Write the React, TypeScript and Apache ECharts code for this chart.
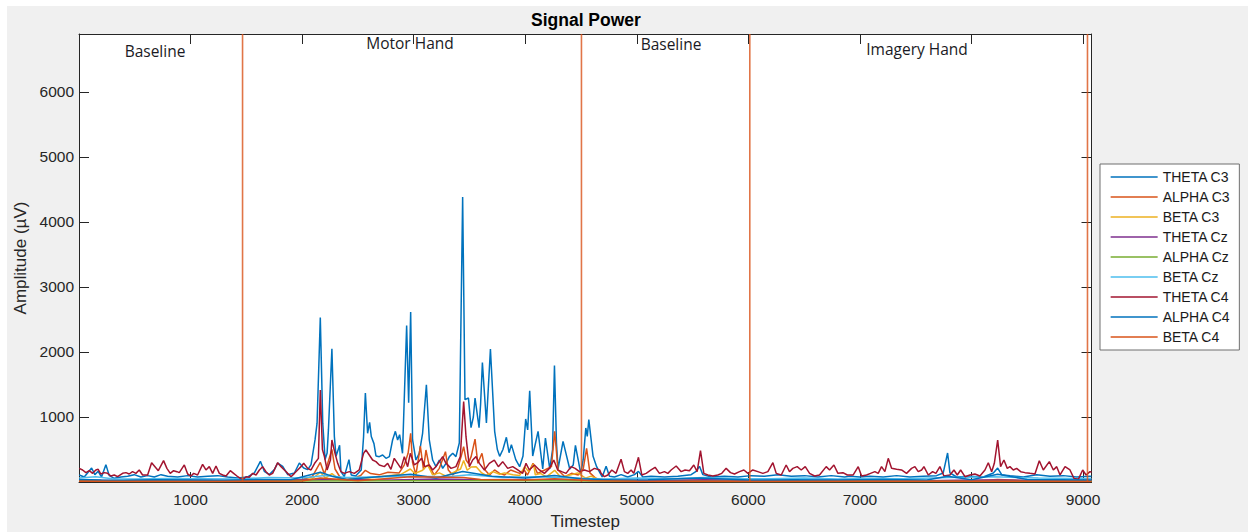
import React, { useEffect, useRef } from "react";
import * as echarts from "echarts";

// ---------- data ----------
const seriesNames = [
  "THETA C3", "ALPHA C3", "BETA C3",
  "THETA Cz", "ALPHA Cz", "BETA Cz",
  "THETA C4", "ALPHA C4", "BETA C4",
];
const seriesColors = [
  "#0072BD", "#D95319", "#EDB120",
  "#7E2F8E", "#77AC30", "#4DBEEE",
  "#A2142F", "#0072BD", "#D95319",
];

const thetaC3: [number, number][] = [
  [2,108],[47,77],[113,215],[142,113],[172,164],[202,77],[241,267],[271,98],[316,57],[376,77],[436,88],[495,113],[555,77],[615,98],[675,77],[735,113],[794,88],[884,77],[974,98],[1063,77],[1153,88],[1243,98],[1333,77],[1422,62],[1512,77],[1572,139],[1626,318],[1661,164],[1706,113],[1751,190],[1781,292],[1826,241],[1871,113],[1931,139],[1975,292],[2014,215],[2050,190],[2080,267],[2116,651],[2134,905],[2163,2530],[2185,905],[2206,344],[2224,446],[2236,805],[2267,2049],[2289,702],[2304,395],[2336,564],
  [2348,159],[2378,82],[2420,344],[2440,108],[2480,92],[2530,185],[2551,700],[2567,1369],[2587,749],[2605,917],[2620,700],[2644,590],[2662,400],[2692,390],[2722,415],[2752,364],[2782,390],[2811,646],[2836,779],[2856,646],[2874,728],[2900,441],[2937,2407],[2955,1220],[2973,2613],[2990,650],[3020,338],[3050,441],[3080,749],[3114,1496],[3140,646],[3170,338],[3200,236],[3230,338],[3260,210],[3290,287],[3320,390],[3350,441],[3379,390],[3409,600],[3439,4384],[3460,1266],[3491,1292],[3514,836],[3535,1000],[3550,1292],[3586,836],[3600,1200],[3616,1839],[3652,908],[3688,2045],[3726,779],[3750,500],[3771,395],[3800,500],[3831,687],[3855,450],[3876,575],[3915,344],[3950,236],[3980,400],[4004,969],[4022,800],[4040,1404],[4067,400],[4115,779],[4157,200],[4181,677],[4220,200],[4245,500],[4262,1793],[4280,600],[4294,200],[4339,625],[4399,200],[4430,260],[4450,564],[4498,130],[4520,350],[4543,831],[4556,700],[4570,959],[4608,395],[4640,236],
  [4670,139],[4690,77],[4725,241],[4755,88],[4800,77],[4859,113],[4919,77],[4979,113],[5015,164],[5054,77],[5128,88],[5248,77],[5368,88],[5487,113],[5532,164],[5562,241],[5592,113],[5667,77],[5786,88],[5906,77],[6025,98],[6145,88],[6265,113],[6384,88],[6504,98],[6623,77],[6743,98],[6863,77],
  [6910,88],[7000,77],[7089,88],[7209,77],[7329,98],[7448,77],[7568,88],[7687,98],[7747,139],[7786,446],[7807,139],[7867,77],[7986,88],[8106,77],[8196,139],[8235,215],[8271,113],[8345,98],[8465,77],[8584,113],[8704,88],[8824,98],[8943,77],[9063,88],[9076,85],
];

const alphaC3: [number, number][] = [
  [0,20],[300,15],[600,25],[900,15],[1200,20],[1500,15],[1800,30],[2000,40],[2090,80],[2163,300],[2200,120],[2267,500],[2295,200],[2348,50],[2410,30],[2465,60],[2525,100],[2567,180],[2615,130],[2690,110],[2770,150],[2870,140],[2915,260],[2950,441],[2973,749],[2990,300],[3020,110],[3060,550],[3088,190],[3110,492],[3140,236],[3185,108],[3230,210],[3285,467],[3310,185],[3350,108],[3390,185],[3425,390],[3448,544],[3470,338],[3490,287],[3515,390],[3550,660],[3575,287],[3612,441],[3640,185],[3680,108],[3725,185],[3770,133],[3815,108],[3870,185],[3950,133],[3990,185],[4020,108],[4070,287],[4110,133],[4175,185],[4235,236],[4264,780],[4294,185],[4355,82],[4415,133],[4475,108],[4520,200],[4550,518],[4580,140],[4630,60],[4690,30],[5000,20],[5500,25],[6000,15],[6500,20],[7000,15],[7500,20],[8000,15],[8235,40],[8500,20],[9076,15],
];

const betaC3: [number, number][] = [
  [0,10],[500,15],[1000,10],[1500,15],[2000,25],[2090,50],[2163,150],[2210,60],[2267,130],[2320,60],[2410,40],[2490,70],[2590,60],[2690,80],[2790,100],[2890,120],[2970,200],[3010,130],[3080,180],[3125,262],[3170,110],[3230,140],[3290,90],[3370,160],[3420,200],[3448,330],[3480,180],[3515,230],[3560,236],[3610,140],[3650,100],[3710,160],[3770,120],[3815,140],[3890,110],[3950,100],[3995,236],[4030,160],[4075,280],[4090,110],[4140,130],[4190,80],[4264,180],[4320,70],[4410,110],[4470,140],[4540,60],[4590,90],[4670,30],[5000,15],[5500,10],[6000,15],[6500,10],[7000,15],[7500,10],[8000,15],[8500,10],[9076,15],
];

const thetaCz: [number, number][] = [
  [0,30],[400,20],[800,35],[1200,25],[1600,20],[2000,30],[2400,40],[2800,30],[3200,45],[3600,35],[4000,40],[4400,30],[4800,25],[5200,20],[5600,35],[6000,25],[6400,20],[6800,30],[7200,25],[7600,20],[8000,30],[8400,25],[8800,20],[9076,25],
];

const alphaCz: [number, number][] = [
  [0,10],[1000,8],[2000,15],[3000,20],[4000,18],[5000,10],[6000,8],[7000,10],[8000,8],[9076,10],
];

const betaCz: [number, number][] = [
  [0,60],[150,80],[300,50],[500,45],[800,55],[1100,50],[1400,45],[1700,70],[2000,60],[2200,100],[2400,70],[2700,80],[3000,90],[3300,80],[3500,110],[3800,70],[4100,80],[4400,60],[4700,45],[5000,60],[5300,50],[5600,70],[5900,55],[6200,50],[6500,60],[6800,45],[7100,55],[7400,50],[7800,70],[8200,80],[8600,60],[9076,50],
];

const thetaC4: [number, number][] = [
  [2,210],[32,185],[62,144],[92,174],[122,133],[151,185],[172,195],[196,123],[226,144],[256,133],[286,92],[316,108],[346,82],[391,133],[421,144],[450,123],[480,159],[510,133],[540,185],[570,108],[615,108],[651,297],[681,236],[711,174],[758,328],[788,210],[818,133],[848,174],[878,159],[899,144],[944,262],[974,123],[1004,92],[1028,133],[1063,108],[1108,272],[1138,185],[1168,236],[1198,133],[1228,246],[1258,133],[1288,108],[1318,92],[1356,174],[1386,133],[1416,92],[1467,31],[1497,82],[1527,72],[1557,133],[1587,108],[1617,185],[1646,236],[1676,159],[1706,108],[1736,133],[1781,297],[1811,236],[1841,185],[1871,133],[1901,82],[1931,133],[1960,185],[1990,236],[2014,287],[2050,210],[2080,185],[2116,297],[2146,364],[2163,1415],[2182,500],[2200,390],[2224,185],[2254,338],[2267,646],[2295,441],[2319,287],
  [2348,159],[2378,133],[2423,159],[2468,133],[2512,185],[2551,441],[2572,492],[2602,415],[2632,338],[2662,313],[2692,262],[2737,236],[2767,287],[2796,195],[2826,364],[2856,287],[2886,210],[2916,390],[2946,236],[2970,441],[3006,262],[3036,297],[3071,364],[3101,236],[3140,262],[3170,185],[3200,236],[3230,313],[3260,390],[3290,287],[3335,210],[3379,236],[3418,390],[3448,1236],[3469,697],[3499,236],[3529,338],[3559,390],[3589,287],[3634,185],[3678,287],[3723,338],[3759,236],[3798,313],[3843,210],[3888,236],[3933,185],[3977,133],[4007,287],[4037,185],[4082,262],[4127,185],[4172,133],[4217,210],[4256,338],[4291,185],[4327,159],[4366,133],[4411,236],[4447,210],[4486,159],[4531,185],[4575,159],[4620,210],[4668,185],
  [4680,133],[4710,82],[4740,108],[4776,185],[4814,133],[4859,349],[4889,159],[4919,133],[4949,185],[4973,133],[5015,380],[5045,108],[5084,133],[5128,185],[5164,226],[5203,133],[5248,159],[5278,133],[5308,185],[5353,246],[5398,159],[5433,185],[5472,174],[5511,262],[5541,159],[5571,482],[5601,133],[5637,108],[5682,92],[5726,108],[5762,133],[5801,210],[5840,144],[5876,123],[5921,159],[5960,185],[5996,133],[6040,185],[6085,159],[6130,133],[6175,159],[6220,297],[6250,133],[6295,108],[6339,262],[6369,159],[6399,210],[6438,236],[6474,185],[6510,236],[6549,133],[6594,92],[6638,108],[6698,236],[6728,185],[6767,262],[6803,133],[6848,144],[6887,108],
  [6940,108],[6985,236],[7015,92],[7060,108],[7095,133],[7134,159],[7164,133],[7194,236],[7224,159],[7254,364],[7284,210],[7329,195],[7373,185],[7418,133],[7463,210],[7493,236],[7523,159],[7553,185],[7574,236],[7613,108],[7652,159],[7681,133],[7717,236],[7753,92],[7807,108],[7843,185],[7873,108],[7903,185],[7942,82],[7986,108],[8031,123],[8076,92],[8121,185],[8151,297],[8181,159],[8205,287],[8235,646],[8261,236],[8291,338],[8321,210],[8345,236],[8375,185],[8405,210],[8441,159],[8480,144],[8525,133],[8569,123],[8608,328],[8644,185],[8698,313],[8734,185],[8764,236],[8794,108],[8839,236],[8883,185],[8919,56],[8958,41],[8997,185],[9027,108],[9063,159],[9076,150],
];

const alphaC4: [number, number][] = [
  [0,40],[200,30],[400,25],[700,35],[1000,30],[1300,25],[1600,40],[1900,35],[2163,150],[2267,90],[2400,40],[2600,70],[2973,120],[3200,60],[3439,160],[3700,90],[4000,60],[4262,100],[4500,50],[4800,30],[5100,35],[5571,60],[6000,30],[6400,35],[6800,30],[7200,40],[7600,30],[7786,90],[8000,35],[8235,120],[8500,40],[8800,35],[9076,30],
];

const betaC4: [number, number][] = [
  [0,10],[1000,8],[2000,15],[2163,60],[2500,20],[2973,80],[3448,70],[3600,40],[4000,30],[4264,50],[4600,20],[5000,10],[6000,8],[7000,10],[8000,12],[9076,8],
];

const regionBoundaries = [1466, 4504, 6013, 9040];
const regionLabels = ["Baseline", "Motor Hand", "Baseline", "Imagery Hand"];

const X_MIN = 0;
const X_MAX = 9076;
const Y_MIN = 0;
const Y_MAX = 6890;
const TICK_STEP = 1000;

// ---------- styles ----------
const AXIS_COLOR = "#262626";
const FONT = "'Liberation Sans', Arial, Helvetica, sans-serif";
const labelPos = [
  { x: 155, y: 51 },
  { x: 410, y: 43 },
  { x: 671, y: 44 },
  { x: 917, y: 49 },
];

export default function App() {
  const ref = useRef<HTMLDivElement>(null);

  useEffect(() => {
    if (!ref.current) return;
    const chart = echarts.init(ref.current, null, { renderer: "svg" });
    const dataSets = [thetaC3, alphaC3, betaC3, thetaCz, alphaCz, betaCz, thetaC4, alphaC4, betaC4];

    const lineSeries: any[] = seriesNames.map((name, i) => ({
      name,
      type: "line",
      data: dataSets[i],
      symbol: "none",
      showSymbol: false,
      silent: true,
      xAxisIndex: 0,
      yAxisIndex: 0,
      lineStyle: { color: seriesColors[i], width: 1.5 },
      itemStyle: { color: seriesColors[i] },
      z: 2,
    }));

    const boundaryData: any[] = [];
    regionBoundaries.forEach((b) => {
      boundaryData.push([b, Y_MIN], [b, Y_MAX], ["-", "-"]);
    });
    lineSeries.push({
      name: "boundaries",
      type: "line",
      data: boundaryData,
      symbol: "none",
      silent: true,
      connectNulls: false,
      lineStyle: { color: "#D95319", width: 1.6, opacity: 0.8 },
      z: 3,
    });

    const tickFmt = (v: number) => (v === 0 || v % TICK_STEP !== 0 ? "" : String(v));

    const mirrorAxis = {
      axisLine: { show: true, onZero: false, lineStyle: { color: AXIS_COLOR, width: 1 } },
      axisTick: { show: true, inside: true, length: 10, lineStyle: { color: AXIS_COLOR } },
      axisLabel: { show: false },
      splitLine: { show: false },
    };

    chart.setOption({
      animation: false,
      backgroundColor: "#f0f0f0",
      title: {
        text: "Signal Power",
        left: 526,
        top: 6,
        padding: 5,
        textStyle: { fontSize: 17.5, fontWeight: "bold", color: "#000", fontFamily: FONT },
      },
      grid: {
        left: 79,
        right: 156.5,
        top: 34,
        bottom: 50,
        show: true,
        containLabel: false,
        outerBoundsMode: "none",
        backgroundColor: "#ffffff",
        borderWidth: 0,
      },
      legend: {
        data: seriesNames,
        orient: "vertical",
        left: 1100,
        top: 164,
        itemWidth: 47,
        itemHeight: 14,
        itemGap: 6,
        padding: [6, 9, 6, 10],
        backgroundColor: "#ffffff",
        borderColor: "#6f6f6f",
        borderWidth: 1,
        selectedMode: false,
        itemStyle: { opacity: 0, borderWidth: 0 },
        lineStyle: { width: 1.3 },
        textStyle: { fontSize: 14, color: "#1a1a1a", fontFamily: FONT, lineHeight: 14 },
      },
      xAxis: [
        {
          type: "value",
          position: "bottom",
          min: X_MIN,
          max: X_MAX,
          interval: TICK_STEP,
          name: "Timestep",
          nameLocation: "middle",
          nameGap: 31,
          nameTextStyle: { fontSize: 17, color: AXIS_COLOR, fontFamily: FONT },
          axisLine: { show: true, onZero: false, lineStyle: { color: AXIS_COLOR, width: 1 } },
          axisTick: { show: true, inside: true, length: 10, lineStyle: { color: AXIS_COLOR } },
          axisLabel: { margin: 9, fontSize: 15.5, color: AXIS_COLOR, fontFamily: FONT, formatter: tickFmt },
          splitLine: { show: false },
        },
        {
          type: "value",
          position: "top",
          min: X_MIN,
          max: X_MAX,
          interval: TICK_STEP,
          ...mirrorAxis,
        },
      ],
      yAxis: [
        {
          type: "value",
          position: "left",
          min: Y_MIN,
          max: Y_MAX,
          interval: TICK_STEP,
          name: "Amplitude (µV)",
          nameLocation: "middle",
          nameGap: 46,
          nameTextStyle: { fontSize: 17, color: AXIS_COLOR, fontFamily: FONT },
          axisLine: { show: true, onZero: false, lineStyle: { color: AXIS_COLOR, width: 1 } },
          axisTick: { show: true, inside: true, length: 10, lineStyle: { color: AXIS_COLOR } },
          axisLabel: { margin: 5, fontSize: 15.5, color: AXIS_COLOR, fontFamily: FONT, formatter: tickFmt },
          splitLine: { show: false },
        },
        {
          type: "value",
          position: "right",
          min: Y_MIN,
          max: Y_MAX,
          interval: TICK_STEP,
          ...mirrorAxis,
        },
      ],
      graphic: [
        { type: "rect", silent: true, shape: { x: 0, y: 0, width: 1248, height: 6 }, style: { fill: "#ffffff" } },
        { type: "rect", silent: true, shape: { x: 0, y: 0, width: 7, height: 532 }, style: { fill: "#ffffff" } },
        ...regionLabels.map((t, i) => ({
          type: "text",
          silent: true,
          x: labelPos[i].x,
          y: labelPos[i].y,
          z: 100,
          style: {
            text: t,
            fill: "#1a1a24",
            fontSize: 15.5,
            fontFamily: "'Open Sans', 'Noto Sans', sans-serif",
            align: "center",
            verticalAlign: "middle",
          },
        })),
      ],
      series: lineSeries,
    });

    return () => chart.dispose();
  }, []);

  return (
    <div
      ref={ref}
      style={{ position: "absolute", left: 0, top: 0, width: 1248, height: 532 }}
    />
  );
}
